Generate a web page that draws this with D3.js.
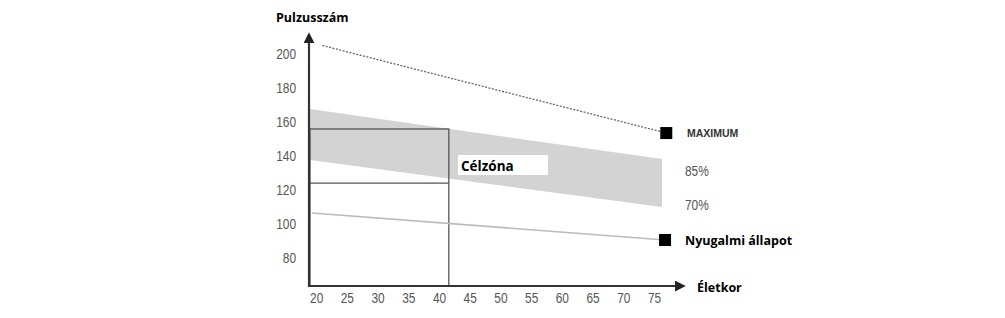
<!DOCTYPE html>
<html>
<head>
<meta charset="utf-8">
<script src="https://cdn.jsdelivr.net/npm/d3@7"></script>
<style>
  body { margin: 0; background: #fff; }
  .tick text { font-family: "Liberation Sans", Arial, sans-serif; fill: #555; }
</style>
</head>
<body>
<div class="canvas"></div>
<script>
const xTicks = [20, 25, 30, 35, 40, 45, 50, 55, 60, 65, 70, 75];
const yTicks = [80, 100, 120, 140, 160, 180, 200];

// age / heart-rate points
const maxLine = [[21, 205], [77, 153.5]];
const bandTop = [[19, 167.6], [76.3, 138.2]];
const bandBottom = [[19, 137.6], [76.3, 110]];
const restLine = [[19.3, 106.5], [76.8, 90.6]];
const targetAge = 41.6;
const targetHigh = 155.9;
const targetLow = 124.1;

const svg = d3.select(".canvas").append("svg")
  .attr("width", 1005).attr("height", 318);

let x = d3.scaleLinear().domain([19, 75]).range([310, 654]);
let y = d3.scaleLinear().domain([80, 200]).range([258, 54]);
const y0 = 286;

// band
let area = d3.area()
  .x(d => x(d[0]))
  .y0((d, i) => y(bandBottom[i][1]))
  .y1(d => y(d[1]));
svg.append("path").attr("d", area(bandTop)).attr("fill", "#d3d3d3");

let line = d3.line().x(d => x(d[0])).y(d => y(d[1]));

// target box
svg.append("rect")
  .attr("x", x(19)).attr("y", y(targetHigh))
  .attr("width", x(targetAge) - x(19)).attr("height", y0 - y(targetHigh))
  .attr("fill", "none").attr("stroke", "#555").attr("stroke-width", 1.3);
svg.append("line")
  .attr("x1", x(19)).attr("x2", x(targetAge))
  .attr("y1", y(targetLow)).attr("y2", y(targetLow))
  .attr("stroke", "#555").attr("stroke-width", 1.3);

svg.append("path").attr("d", line(maxLine))
  .attr("fill", "none").attr("stroke", "#666").attr("stroke-width", 1.3)
  .attr("stroke-dasharray", "2,1.5");
svg.append("path").attr("d", line(restLine))
  .attr("fill", "none").attr("stroke", "#bbb").attr("stroke-width", 1.6);

// axes arrows
svg.append("defs").append("marker")
  .attr("id", "arr").attr("viewBox", "0 0 10 10")
  .attr("refX", 2).attr("refY", 5)
  .attr("markerWidth", 5).attr("markerHeight", 5)
  .attr("orient", "auto")
  .append("path").attr("d", "M0,0 L10,5 L0,10 z").attr("fill", "#222");

svg.append("line").attr("x1", 309).attr("x2", 309).attr("y1", y0 + 1).attr("y2", 41)
  .attr("stroke", "#333").attr("stroke-width", 2.2).attr("marker-end", "url(#arr)");
svg.append("line").attr("x1", 308).attr("x2", 677).attr("y1", y0).attr("y2", y0)
  .attr("stroke", "#333").attr("stroke-width", 2.2).attr("marker-end", "url(#arr)");

// tick labels (narrowed a bit, like the condensed font of the original)
let xAxis = svg.append("g").attr("transform", `translate(0,${y0})`)
  .call(d3.axisBottom(x).tickValues(xTicks).tickSize(0).tickPadding(7));
xAxis.select(".domain").remove();
xAxis.selectAll("text").attr("font-size", 14).attr("transform", "scale(0.85,1)");

let yAxis = svg.append("g").attr("transform", "translate(296,0)")
  .call(d3.axisLeft(y).tickValues(yTicks).tickSize(0).tickPadding(0));
yAxis.select(".domain").remove();
yAxis.selectAll("text").attr("font-size", 14).attr("transform", "scale(0.85,1)");

// markers
const marks = [maxLine[1], restLine[1]];
svg.selectAll(".mk").data(marks).enter().append("rect")
  .attr("x", d => x(d[0]) - 6).attr("y", d => y(d[1]) - 6)
  .attr("width", 12).attr("height", 12).attr("fill", "#000");

const bold = "'Open Sans', 'Noto Sans', sans-serif";
svg.append("text").attr("x", 276).attr("y", 22).text("Pulzusszám")
  .attr("font-family", bold).attr("font-weight", "bold").attr("font-size", 12.5);
svg.append("text").attr("x", 697).attr("y", 292).text("Életkor")
  .attr("font-family", bold).attr("font-weight", "bold").attr("font-size", 12.5);
svg.append("text").attr("x", 687).attr("y", y(maxLine[1][1]) + 4).text("MAXIMUM")
  .attr("font-family", "'Liberation Sans', sans-serif").attr("font-weight", "bold")
  .attr("font-size", 10.5).attr("fill", "#333");
svg.append("text").attr("x", 685).attr("y", 176).text("85%")
  .attr("font-family", "'Liberation Sans', sans-serif")
  .attr("font-size", 14).attr("fill", "#555")
  .attr("transform", "translate(685,0) scale(0.85,1) translate(-685,0)");
svg.append("text").attr("x", 685).attr("y", 210).text("70%")
  .attr("font-family", "'Liberation Sans', sans-serif")
  .attr("font-size", 14).attr("fill", "#555")
  .attr("transform", "translate(685,0) scale(0.85,1) translate(-685,0)");
svg.append("text").attr("x", 685).attr("y", y(restLine[1][1]) + 5).text("Nyugalmi állapot")
  .attr("font-family", bold).attr("font-weight", "bold").attr("font-size", 12.5);

svg.append("rect").attr("x", 458).attr("y", 155).attr("width", 90).attr("height", 20).attr("fill", "#fff");
svg.append("text").attr("x", 461).attr("y", 171).text("Célzóna")
  .attr("font-family", bold).attr("font-weight", "bold").attr("font-size", 13.5);
</script>
</body>
</html>
